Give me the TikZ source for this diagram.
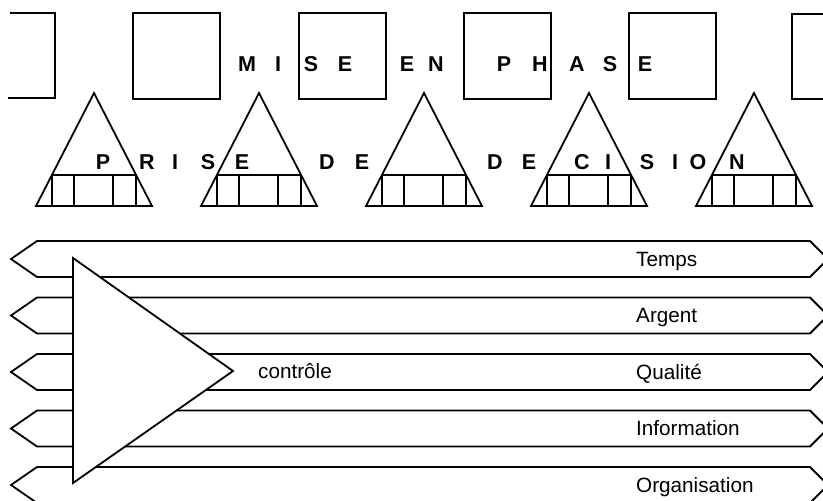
\documentclass[tikz,border=0pt]{standalone}
\usepackage{fontspec}
\setmainfont{Liberation Sans}
\begin{document}
\begin{tikzpicture}[x=1pt,y=-1pt,
  outline/.style={draw=black, line width=1.8pt, line join=miter},
  caps/.style={font=\bfseries\fontsize{21.5}{26}\selectfont, inner sep=0pt, anchor=base},
  lbl/.style={font=\fontsize{20.7}{25}\selectfont, inner sep=0pt, anchor=base west}]
\useasboundingbox (0,0) rectangle (823,501);
\begin{scope}
\clip (0,0) rectangle (823,501);

% row of squares
\draw[outline] (10,13) -- (55,13) -- (55,98) -- (8,98);
\foreach \x in {133,299,464,629}
  \draw[outline] (\x,13) rectangle +(87,86);
\draw[outline] (830,14) -- (792,14) -- (792,99) -- (830,99);

% row of triangles, each with a divided strip at its base
\foreach \c in {94,259,424,589,754} {
  \draw[outline] (\c,93) -- (\c+58,206) -- (\c-58,206) -- cycle;
  \draw[outline] (\c-42,175) rectangle (\c+42,206);
  \draw[outline] (\c-20,175) -- (\c-20,206);
  \draw[outline] (\c+19,175) -- (\c+19,206);
}

% five double-pointed bands
\foreach \i in {0,...,4} {
  \pgfmathsetmacro{\t}{241+56.5*\i}
  \draw[outline] (37,\t) -- (810,\t) -- (828,\t+18) -- (810,\t+36)
     -- (37,\t+36) -- (11,\t+18) -- cycle;
}

% control triangle over the bands
\filldraw[outline, fill=white] (73,258) -- (233,371) -- (73,483) -- cycle;
\end{scope}

% spaced capitals
\foreach \l/\x [count=\n] in {M/247,I/278,S/311,E/345,E/407,N/436,P/504,H/540,A/577,S/610,E/645}
  \node[caps] (top\n) at (\x,71) {\l};
\foreach \l/\x [count=\n] in {P/103,R/147,I/175,S/208,E/242,D/327,E/362,D/495,E/529,C/582,I/608,S/647,I/675,O/698,N/737}
  \node[caps] (bot\n) at (\x,169) {\l};

% labels
\node[lbl] (ctrl) at (258,378) {contrôle};
\node[lbl] (temps) at (636,266) {Temps};
\node[lbl] (argent) at (636,322.5) {Argent};
\node[lbl] (qualite) at (636,379) {Qualité};
\node[lbl] (info) at (636,435.5) {Information};
\node[lbl] (orga) at (636,492) {Organisation};
\end{tikzpicture}
\end{document}
